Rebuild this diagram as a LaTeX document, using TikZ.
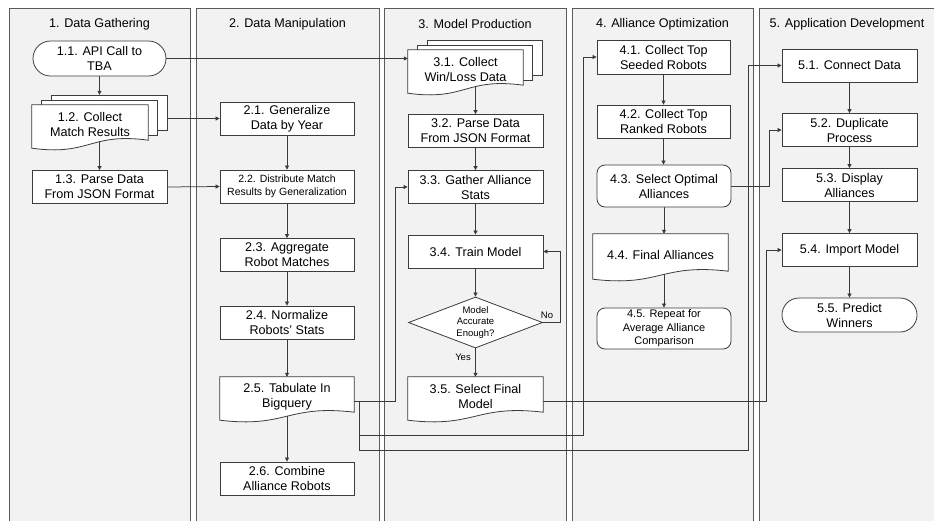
\documentclass[tikz,border=0pt]{standalone}
\usepackage{fontspec}
\setmainfont{Liberation Sans}
\usetikzlibrary{arrows.meta,shapes.geometric,calc}
\definecolor{lanefill}{HTML}{F2F2F2}
\definecolor{lanecol}{HTML}{5A5A5A}
\definecolor{boxcol}{HTML}{3C3C3C}
\definecolor{edgecol}{HTML}{3A3A3A}
\newcommand\nfont{\fontsize{12.6}{15}\selectfont}
\newcommand\sfontA{\fontsize{10.5}{13.3}\selectfont}
\newcommand\sfontB{\fontsize{11}{13.5}\selectfont}
\newcommand\sfontC{\fontsize{9.5}{11.7}\selectfont}
\newcommand\mydocshape[1]{\draw[shp] (#1.north west) -- (#1.north east) -- ([yshift=4pt]#1.south east) .. controls ([yshift=12pt]#1.south) and ([yshift=-12pt]#1.south) .. ([yshift=-4pt]#1.south west) -- cycle;}
\pgfdeclarelayer{lanes}
\pgfdeclarelayer{edges}
\pgfdeclarelayer{shapes}
\pgfsetlayers{lanes,edges,shapes,main}
\tikzset{
  lane/.style={draw=lanecol, fill=lanefill, line width=0.9pt},
  box/.style={draw=boxcol, fill=white, line width=0.8pt, minimum width=134pt, minimum height=33pt, inner sep=1pt, align=center, font=\nfont},
  rbox/.style={box, rounded corners=8pt},
  docnode/.style={inner sep=0pt, align=center, font=\nfont},
  shp/.style={draw=boxcol, fill=white, line width=0.8pt},
  sheet/.style={shp, inner sep=0pt, anchor=north west},
  hdr/.style={inner sep=1pt, font=\nfont},
  lbl/.style={inner sep=0pt, font=\sfontC},
  arr/.style={draw=edgecol, line width=0.75pt, -{Triangle[length=4pt,width=4pt]}},
}
\begin{document}
\begin{tikzpicture}[x=1pt,y=-1pt]
\useasboundingbox (0,0) rectangle (934,520);
% lanes
\begin{pgfonlayer}{lanes}
\begin{scope}
\clip (0,0) rectangle (934,520);
\draw[lane] (9,8) rectangle (190.5,530);
\draw[lane] (196,8) rectangle (379,530);
\draw[lane] (384.5,8) rectangle (566,530);
\draw[lane] (572,8) rectangle (753,530);
\draw[lane] (759,8) rectangle (945,530);
\end{scope}
\end{pgfonlayer}
% headers
\node[hdr] (h1) at (99.5,24) {1. Data Gathering};
\node[hdr] (h2) at (287.5,24) {2. Data Manipulation};
\node[hdr] (h3) at (475,24) {3. Model Production};
\node[hdr] (h4) at (662.5,24) {4. Alliance Optimization};
\node[hdr] (h5) at (847,24) {5. Application Development};
% lane 1
\node[box, minimum width=133pt, minimum height=35pt, rounded corners=17.5pt] (n11) at (99.5,58.5) {1.1. API Call to\\TBA};
\node[docnode, minimum width=116pt, minimum height=39pt] (n12) at (90,124.5) {1.2. Collect\\Match Results};
\node[box, minimum width=135pt] (n13) at (99.5,187) {1.3. Parse Data\\From JSON Format};
% lane 2
\node[box] (n21) at (287,118.5) {2.1. Generalize\\Data by Year};
\node[box, font=\sfontA] (n22) at (287,186.5) {2.2. Distribute Match\\Results by Generalization};
\node[box] (n23) at (287,255) {2.3. Aggregate\\Robot Matches};
\node[box] (n24) at (287,322.5) {2.4. Normalize\\Robots' Stats};
\node[docnode, minimum width=134pt, minimum height=39pt] (n25) at (287,396.5) {2.5. Tabulate In\\Bigquery};
\node[box] (n26) at (287,478.5) {2.6. Combine\\Alliance Robots};
% lane 3
\node[docnode, minimum width=115pt, minimum height=39pt] (n31) at (465.5,69.5) {3.1. Collect\\Win/Loss Data};
\node[box, minimum width=135pt] (n32) at (475.5,131) {3.2. Parse Data\\From JSON Format};
\node[box, minimum width=135pt] (n33) at (475.5,187) {3.3. Gather Alliance\\Stats};
\node[box, minimum width=135pt] (n34) at (475.5,251.5) {3.4. Train Model};
\node[diamond, draw=boxcol, fill=white, line width=0.8pt, inner sep=0pt, minimum width=134pt, minimum height=51pt] (dia) at (475.5,322.5) {};
\node[lbl, align=center] (diat) at (dia.center) {Model\\Accurate\\Enough?};
\node[docnode, minimum width=135pt, minimum height=39pt] (n35) at (475.5,396.5) {3.5. Select Final\\Model};
\node[lbl] (yes) at (463,357) {Yes};
\node[lbl] (no) at (547,315) {No};
% lane 4
\node[box, minimum width=133pt, minimum height=34pt] (n41) at (663.5,57) {4.1. Collect Top\\Seeded Robots};
\node[box, minimum width=133pt] (n42) at (663.5,121.5) {4.2. Collect Top\\Ranked Robots};
\node[rbox, minimum height=42pt] (n43) at (664,186) {4.3. Select Optimal\\Alliances};
\node[docnode, minimum width=135pt, minimum height=41pt] (n44) at (660.5,254.5) {4.4. Final Alliances};
\node[rbox, minimum height=41pt, font=\sfontB] (n45) at (664,328.5) {4.5. Repeat for\\Average Alliance\\Comparison};
% lane 5
\node[box, minimum width=135pt] (n51) at (849.5,65.5) {5.1. Connect Data};
\node[box, minimum width=135pt] (n52) at (849.5,130) {5.2. Duplicate\\Process};
\node[box, minimum width=135pt] (n53) at (849.5,185) {5.3. Display\\Alliances};
\node[box, minimum width=135pt] (n54) at (849.5,250) {5.4. Import Model};
\node[box, minimum width=135pt, minimum height=34pt, rounded corners=17pt] (n55) at (849.5,315) {5.5. Predict\\Winners};
% document shapes
\begin{pgfonlayer}{shapes}
\node[sheet, minimum width=116pt, minimum height=35pt] (n12c) at ([xshift=19pt,yshift=10pt]n12.north west) {};
\node[sheet, minimum width=116pt, minimum height=35pt] (n12b) at ([xshift=9.5pt,yshift=5pt]n12.north west) {};
\mydocshape{n12}
\node[sheet, minimum width=115pt, minimum height=35pt] (n31c) at ([xshift=19pt,yshift=10pt]n31.north west) {};
\node[sheet, minimum width=115pt, minimum height=35pt] (n31b) at ([xshift=9.5pt,yshift=5pt]n31.north west) {};
\mydocshape{n31}
\mydocshape{n25}
\mydocshape{n35}
\mydocshape{n44}
\end{pgfonlayer}
% junction coordinates
\coordinate (jA) at (395,0);
\coordinate (jB) at (359,435);
\coordinate (jC) at (583,435);
\coordinate (jD) at (359,450);
\coordinate (jE) at (748,450);
\coordinate (jF) at (769,0);
\coordinate (jG) at (766,0);
\coordinate (jH) at (560,0);
% edges
\begin{pgfonlayer}{edges}
\draw[arr] (n11.south) -- (n11.south |- n12c.north);
\draw[arr] (n12 -| n13) -- (n13.north);
\draw[arr] (n11.east) -- (n11.east -| n31.west);
\draw[arr] (n12c.east |- n21) -- (n21.west);
\draw[arr] (n13.east) -- (n22.west);
\draw[arr] (n21) -- (n22);
\draw[arr] (n22) -- (n23);
\draw[arr] (n23) -- (n24);
\draw[arr] (n24) -- (n25.north);
\draw[arr] (n25) -- (n26);
\draw[arr] ([yshift=-4.5pt]n25.east) -- ([yshift=-4.5pt]n25.east -| jA) |- (n33.west);
\draw[arr] ([yshift=-4.5pt]n25.east) -| (jB) -- (jC) |- (n41.west);
\draw[arr] ([yshift=-4.5pt]n25.east) -| (jD) -- (jE) |- (n51.west);
\draw[arr] (n31 -| n32) -- (n32.north);
\draw[arr] (n32) -- (n33);
\draw[arr] (n33) -- (n34);
\draw[arr] (n34) -- (dia.north);
\draw[arr] (dia.south) -- (n35.north);
\draw[arr] (dia.east) -- (dia.east -| jH) |- (n34.east);
\draw[arr] ([yshift=-4.5pt]n35.east) -- ([yshift=-4.5pt]n35.east -| jG) |- (n54.west);
\draw[arr] (n41) -- (n42);
\draw[arr] (n42.south) -- (n42.south |- n43.north);
\draw[arr] (n43.south) -- (n43.south |- n44.north);
\draw[arr] (n44 -| n45) -- (n45.north);
\draw[arr] (n43.east) -- (n43.east -| jF) |- (n52.west);
\draw[arr] (n51) -- (n52);
\draw[arr] (n52) -- (n53);
\draw[arr] (n53) -- (n54);
\draw[arr] (n54) -- (n55);
\end{pgfonlayer}
\end{tikzpicture}
\end{document}
